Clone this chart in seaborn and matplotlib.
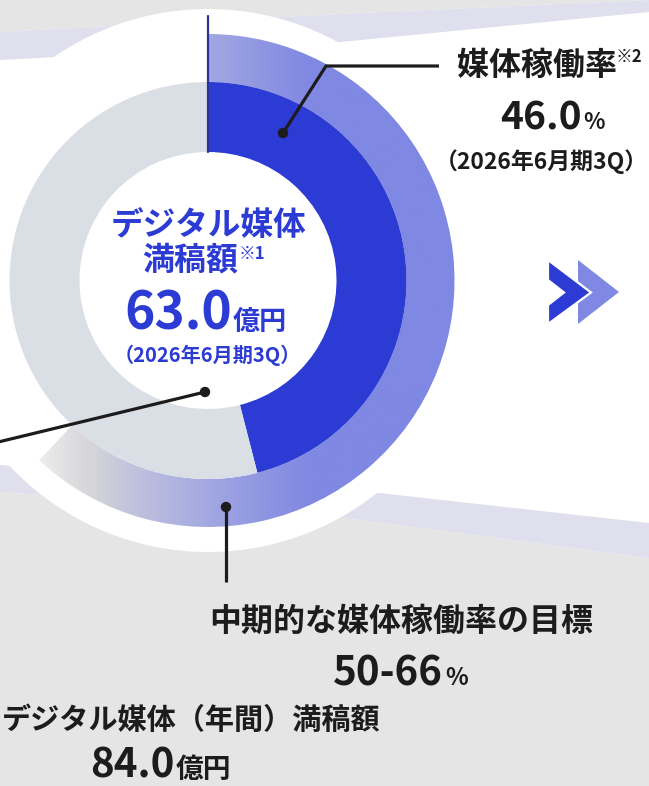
import numpy as np
import matplotlib
matplotlib.use("Agg")
import matplotlib.pyplot as plt
import seaborn as sns
from matplotlib.colors import LinearSegmentedColormap
from matplotlib.patches import Circle, Polygon

# --- data ---
ring_labels = ["稼働", "未稼働"]
ring_values = [46.0, 54.0]          # 媒体稼働率 46.0%
band_values = [62.0, 38.0]          # outer target band sweep (gradient)
occupancy_rate = 46.0
booked_amount = 63.0                # 億円 (2026年6月期3Q)
annual_amount = 84.0                # 億円 (年間)
target_range = [50, 66]             # %
period_label = "（2026年6月期3Q）"

# colours
DARK = "#2c3bd3"
RING_GREY = "#dadee5"
LIGHT = "#7f88e2"
BG_GREY = "#e5e5e5"
LAVENDER = "#dfdfed"
INK = "#1c1c1c"

W, H = 649, 786
CX, CY = 208, H - 280.5


def Y(p):
    return H - p


sns.set_theme(style="white")
plt.rcParams["font.family"] = ["Noto Sans CJK JP", "DejaVu Sans"]

fig = plt.figure(figsize=(W / 100, H / 100), dpi=100)
ax = fig.add_axes([0, 0, 1, 1])

# background swooshes
xs = np.linspace(0, W, 400)
top_a = np.interp(xs, [0, 340, 649], [32, 14, 0])
top_b = np.interp(xs, [0, 340, 649], [60, 42, 12])
bot_a = np.interp(xs, [0, 379, 649], [465, 493, 523])
bot_b = np.interp(xs, [0, 343, 649], [492, 518, 558])
ax.fill_between(xs, Y(top_a), H, color=BG_GREY, lw=0, zorder=0)
ax.fill_between(xs, Y(top_b), Y(top_a), color=LAVENDER, lw=0, zorder=0)
ax.fill_between(xs, Y(bot_b), Y(bot_a), color=LAVENDER, lw=0, zorder=0)
ax.fill_between(xs, 0, Y(bot_b), color=BG_GREY, lw=0, zorder=0)

ax.add_patch(Circle((CX, CY), 271.5, color="white", lw=0, zorder=1))

# outer band with horizontal gradient
band_wedges, _ = ax.pie(band_values, radius=246.5, center=(CX, CY), startangle=90,
                        counterclock=False, colors=["none", "none"],
                        wedgeprops=dict(width=48, linewidth=0))
stops = [(0.0, "#f2f2f2"), (40 / W, "#ececec"), (90 / W, "#d5d5d9"),
         (130 / W, "#c2c3dd"), (208 / W, "#a3a8e1"), (265 / W, "#8e95e2"),
         (310 / W, "#8088e2"), (1.0, LIGHT)]
cmap = LinearSegmentedColormap.from_list("band", stops)
img = ax.imshow(np.linspace(0, 1, 650)[None, :], cmap=cmap, extent=(0, W, 0, H),
                aspect="auto", zorder=2, interpolation="bilinear")
img.set_clip_path(band_wedges[0])

# inner ring: 媒体稼働率
ring_wedges, _ = ax.pie(ring_values, radius=198.5, center=(CX, CY), startangle=90,
                        counterclock=False, colors=[DARK, RING_GREY],
                        wedgeprops=dict(width=70, linewidth=0))
for w in ring_wedges:
    w.set_zorder(3)

# zero line
ax.plot([CX, CX], [Y(16), Y(152)], color="#2b3496", lw=1.6, zorder=4)

# leader lines
lead = dict(color=INK, lw=2.3, zorder=5, solid_capstyle="butt")
ax.plot([283, 326, 439], [Y(133), Y(66), Y(66)], **lead)
ax.plot([205, -10], [Y(392), Y(444)], **lead)
ax.plot([226, 226], [Y(507), Y(582)], **lead)
for px, py in [(283, 133), (205, 392), (226, 507)]:
    ax.add_patch(Circle((px, Y(py)), 4.5, color=INK, zorder=6))

# chevrons
ax.add_patch(Polygon([(578, Y(260)), (619, Y(292)), (578, Y(324))],
                     closed=True, color=LIGHT, lw=0, zorder=4))
ax.add_patch(Polygon([(548, Y(260)), (591, Y(292.5)), (548, Y(324)), (548, Y(305)),
                      (564, Y(292.5)), (548, Y(280))],
                     closed=True, facecolor=DARK, edgecolor="white", lw=1.6, zorder=5))

# right label
ax.text(457, Y(66), "媒体稼働率", ha="left", va="center", size=23, weight="bold", color=INK, zorder=7)
ax.text(616, Y(57), "※2", ha="left", va="center", size=12, weight="bold", color=INK, zorder=7)
ax.text(582, Y(129), f"{occupancy_rate:.1f}", ha="right", va="baseline", size=28, weight="bold", color=INK, zorder=7)
ax.text(583, Y(129), "%", ha="left", va="baseline", size=16, weight="bold", color=INK, zorder=7)
ax.text(541, Y(162), period_label, ha="center", va="center", size=16.5, weight="bold", color=INK, zorder=7)

# centre label
ax.text(209, Y(226), "デジタル媒体", ha="center", va="center", size=23.5, weight="bold", color=DARK, zorder=7)
ax.text(238, Y(260), "満稿額", ha="right", va="center", size=23, weight="bold", color=DARK, zorder=7)
ax.text(239, Y(254), "※1", ha="left", va="center", size=12, weight="bold", color=DARK, zorder=7)
ax.text(232, Y(330), f"{booked_amount:.1f}", ha="right", va="baseline", size=37, weight="bold", color=DARK, zorder=7)
ax.text(233, Y(330), "億円", ha="left", va="baseline", size=19.5, weight="bold", color=DARK, zorder=7)
ax.text(207, Y(355), period_label, ha="center", va="center", size=14.5, weight="bold", color=DARK, zorder=7)

# target label
ax.text(401, Y(622), "中期的な媒体稼働率の目標", ha="center", va="center", size=23, weight="bold", color=INK, zorder=7)
ax.text(443, Y(685), f"{target_range[0]}-{target_range[1]}", ha="right", va="baseline", size=29, weight="bold", color=INK, zorder=7)
ax.text(445, Y(685), "%", ha="left", va="baseline", size=17, weight="bold", color=INK, zorder=7)

# annual label
ax.text(2, Y(720), "デジタル媒体（年間）満稿額", ha="left", va="center", size=21, weight="bold", color=INK, zorder=7)
ax.text(175, Y(778), f"{annual_amount:.1f}", ha="right", va="baseline", size=29, weight="bold", color=INK, zorder=7)
ax.text(176, Y(778), "億円", ha="left", va="baseline", size=20, weight="bold", color=INK, zorder=7)

ax.set_xlim(0, W)
ax.set_ylim(0, H)
ax.set_aspect("auto")
ax.axis("off")

fig.savefig("out.png", dpi=100)
